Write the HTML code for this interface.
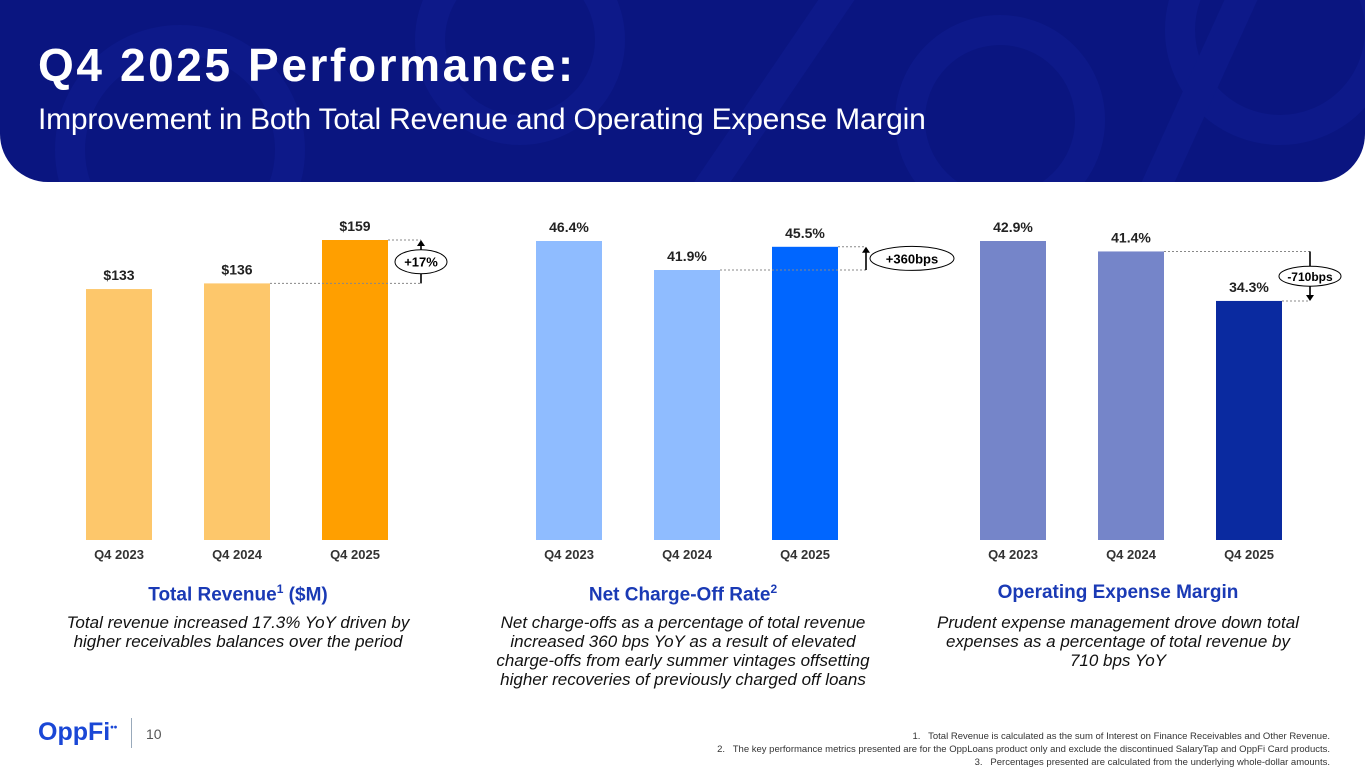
<!DOCTYPE html>
<html><head><meta charset="utf-8">
<style>
body{margin:0;width:1365px;height:768px;overflow:hidden;background:#fff;font-family:"Liberation Sans",Arial,sans-serif;position:relative}
.banner{position:absolute;left:0;top:0;width:1365px;height:182px;background:#0a1580;border-radius:0 0 48px 48px;overflow:hidden}
.t1{position:absolute;left:38px;top:38px;color:#fff;font-size:46px;font-weight:bold;letter-spacing:2.6px}
.t2{position:absolute;left:38px;top:103px;color:#fff;font-size:30px;letter-spacing:-0.2px}
.ct{position:absolute;width:400px;text-align:center;color:#1a3ab5;font-weight:bold;font-size:19px;top:582px}
.cd{position:absolute;width:420px;text-align:center;color:#111;font-style:italic;font-size:17px;line-height:19px;top:613px}
.fn{position:absolute;right:35px;top:730px;text-align:right;font-size:9.5px;color:#333;line-height:13px}
</style></head><body>
<div class="banner">
<svg width="1365" height="182" style="position:absolute;left:0;top:0">
<g fill="none" stroke="#0f1d90" stroke-width="30" opacity="0.6">
<circle cx="520" cy="40" r="90"/><circle cx="1000" cy="120" r="90"/><circle cx="180" cy="150" r="110"/><circle cx="1280" cy="30" r="100"/>
<path d="M700 200 L850 -20"/><path d="M1150 200 L1250 -20"/></g></svg>
<div class="t1">Q4 2025 Performance:</div>
<div class="t2">Improvement in Both Total Revenue and Operating Expense Margin</div>
</div>
<svg id="ch" width="1365" height="768" style="position:absolute;left:0;top:0"></svg>
<div class="ct" style="left:38px">Total Revenue<sup style="font-size:12px">1</sup> ($M)</div>
<div class="cd" style="left:28px">Total revenue increased 17.3% YoY driven by<br>higher receivables balances over the period</div>
<div class="ct" style="left:483px">Net Charge-Off Rate<sup style="font-size:12px">2</sup></div>
<div class="cd" style="left:473px">Net charge-offs as a percentage of total revenue<br>increased 360 bps YoY as a result of elevated<br>charge-offs from early summer vintages offsetting<br>higher recoveries of previously charged off loans</div>
<div class="ct" style="left:918px">Operating Expense Margin</div>
<div class="cd" style="left:908px">Prudent expense management drove down total<br>expenses as a percentage of total revenue by<br>710 bps YoY</div>
<div style="position:absolute;left:38px;top:718px;color:#1a47d6;font-weight:bold;font-size:25px">OppFi<sup style="font-size:10px">••</sup></div>
<div style="position:absolute;left:131px;top:718px;width:1px;height:30px;background:#9ab"></div>
<div style="position:absolute;left:146px;top:726px;font-size:14px;color:#555">10</div>
<div class="fn">1.&nbsp;&nbsp; Total Revenue is calculated as the sum of Interest on Finance Receivables and Other Revenue.<br>2.&nbsp;&nbsp; The key performance metrics presented are for the OppLoans product only and exclude the discontinued SalaryTap and OppFi Card products.<br>3.&nbsp;&nbsp; Percentages presented are calculated from the underlying whole-dollar amounts.</div>
<script>
const categories=["Q4 2023","Q4 2024","Q4 2025"];
const revenueValues=[133,136,159];
const revenueLabels=["$133","$136","$159"];
const ncoValues=[46.4,41.9,45.5];
const ncoLabels=["46.4%","41.9%","45.5%"];
const opexValues=[42.9,41.4,34.3];
const opexLabels=["42.9%","41.4%","34.3%"];
const changeLabels=["+17%","+360bps","-710bps"];
const NS="http://www.w3.org/2000/svg";
const svg=document.getElementById('ch');
function mk(t,a){const e=document.createElementNS(NS,t);for(const k in a)e.setAttribute(k,a[k]);svg.appendChild(e);return e;}
const base=540;
function chart(x0,vals,labs,scale,cols,name,ann){
  const y=v=>base-v*scale;
  const xs=i=>x0+i*118;
  vals.forEach((v,i)=>{
    const r=mk('rect',{x:xs(i),y:y(v),width:66,height:base-y(v),fill:cols[i]});
    
    
    const t=mk('text',{x:xs(i)+33,y:y(v)-9,'text-anchor':'middle','font-size':14,'font-weight':'bold',fill:'#222'});t.textContent=labs[i];
    
    
    const c=mk('text',{x:xs(i)+33,y:559,'text-anchor':'middle','font-size':13,'font-weight':'bold',fill:'#333'});c.textContent=categories[i];
    
    
  });
  const ax=ann.x, ya=y(vals[1]), yb=y(vals[2]);
  mk('line',{x1:xs(1)+66,x2:ax,y1:ya,y2:ya,stroke:'#888','stroke-dasharray':'2,2'});
  mk('line',{x1:xs(2)+66,x2:ax,y1:yb,y2:yb,stroke:'#888','stroke-dasharray':'2,2'});
  const up=yb<ya, top=Math.min(ya,yb), bot=Math.max(ya,yb);
  mk('line',{x1:ax,x2:ax,y1:top+(up?5:0),y2:bot-(up?0:5),stroke:'#000','stroke-width':1.6});
  const tip=up?top:bot, d=up?6:-6;
  mk('path',{d:`M${ax-4} ${tip+d} L${ax} ${tip} L${ax+4} ${tip+d}Z`,fill:'#000'});
  const el=mk('ellipse',{cx:ann.cx,cy:(ya+yb)/2,rx:ann.rx,ry:ann.ry,fill:'#fff',stroke:'#000'});
  
  
  const t=mk('text',{x:ann.cx,y:(ya+yb)/2+5,'text-anchor':'middle','font-size':ann.fs,'font-weight':'bold',fill:'#000'});t.textContent=ann.label;
  
  
}
chart(86,revenueValues,revenueLabels,300/159,['#fdc76b','#fdc76b','#ff9f00'],'revenue',{x:421,cx:421,rx:26,ry:12,fs:13,label:changeLabels[0]});
chart(536,ncoValues,ncoLabels,299/46.4,['#8fbcff','#8fbcff','#0066ff'],'nco',{x:866,cx:912,rx:42,ry:12,fs:13,label:changeLabels[1]});
chart(980,opexValues,opexLabels,299/42.9,['#7585c9','#7585c9','#0a2aa0'],'opex',{x:1310,cx:1310,rx:31,ry:10,fs:12,label:changeLabels[2]});
</script>
</body></html>
